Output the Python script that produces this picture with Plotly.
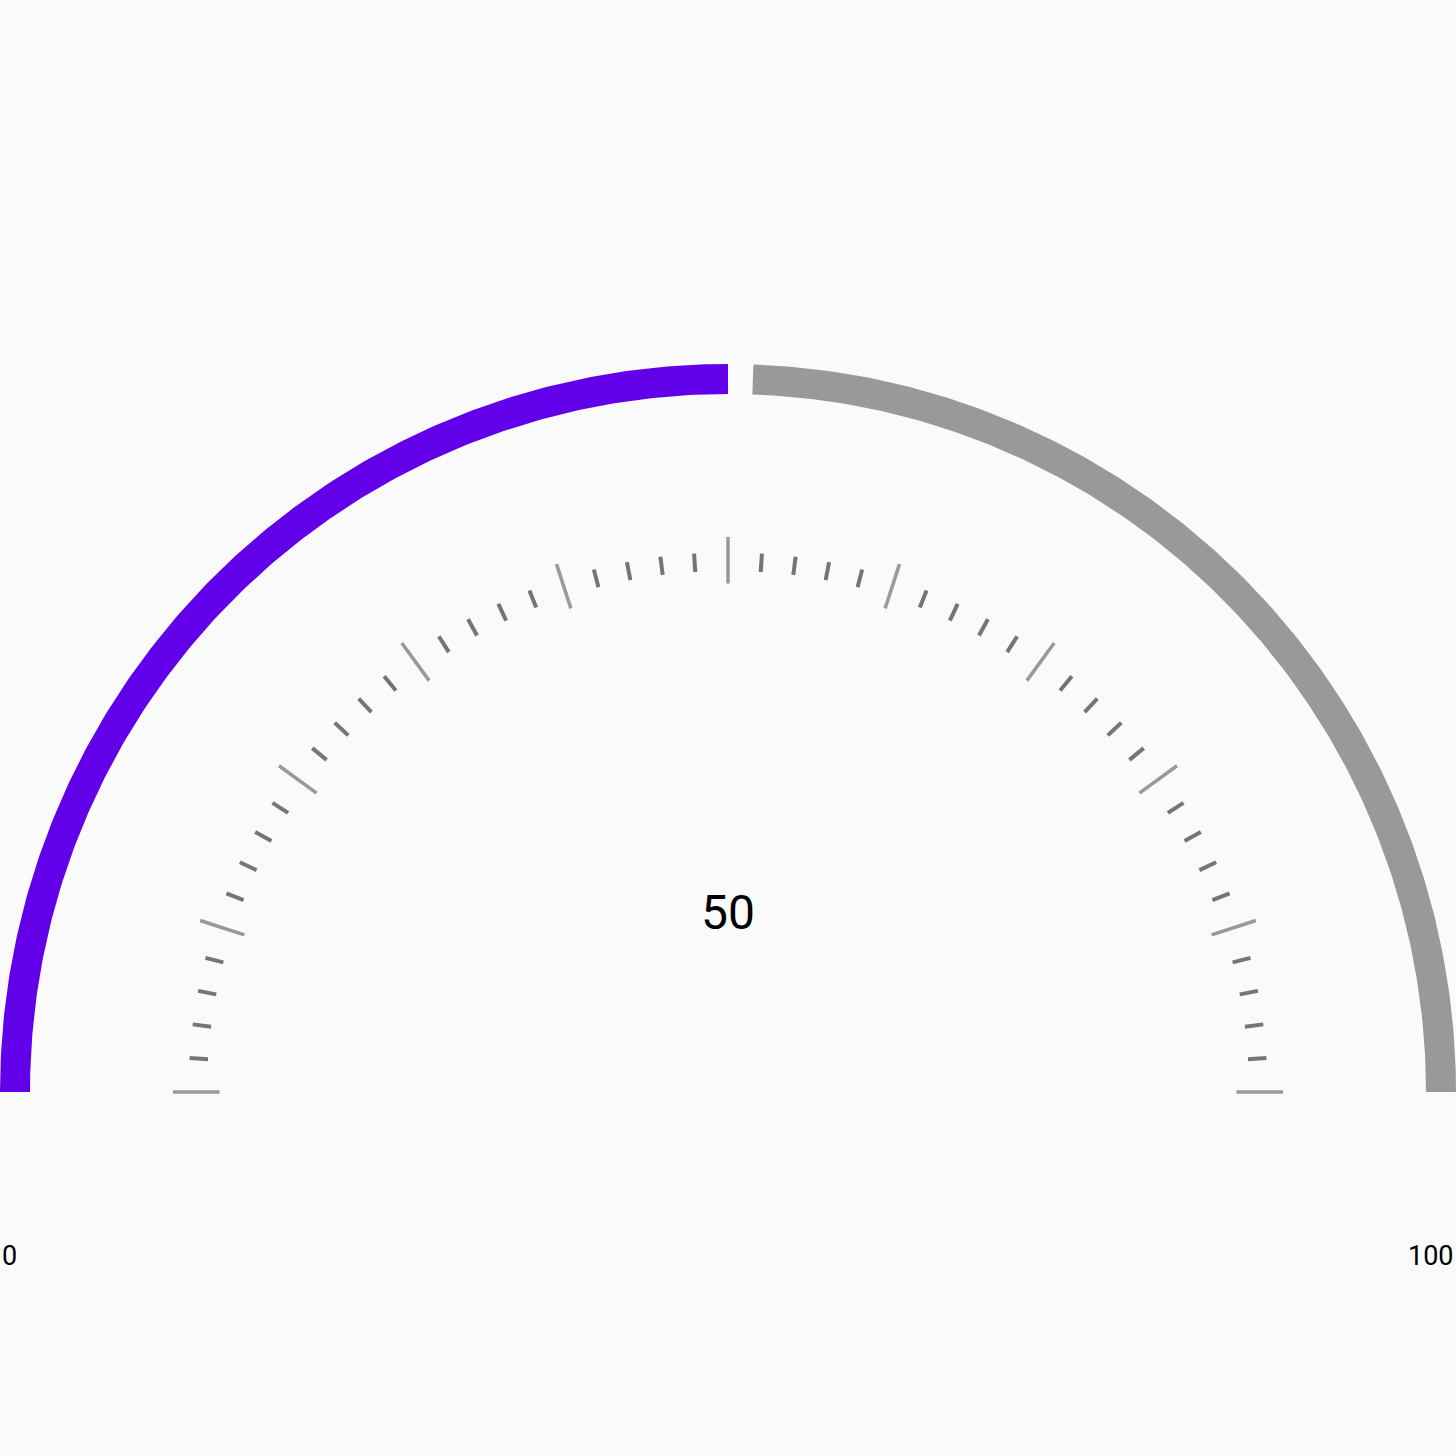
import numpy as np
import plotly.graph_objects as go

# ---- data ----
gauge_min = 0
gauge_max = 100
gauge_value = 50
major_ticks = [0, 10, 20, 30, 40, 50, 60, 70, 80, 90, 100]
minor_ticks = [v for v in range(0, 101, 2) if v % 10 != 0]
end_labels = ["0", "100"]

# ---- styling / layout ----
W = H = 1456
R_OUT, R_IN = 728, 698
GAP_DEG = 2.0
BG = "#FAFAFA"
FILL_COLOR = "#6200EA"
TRACK_COLOR = "#999999"
MAJOR_COLOR = "#999999"
MINOR_COLOR = "#757575"


def ang(v):
    return np.pi * (1 - (v - gauge_min) / (gauge_max - gauge_min))


def band(a0, a1, n=200):
    t = np.linspace(a0, a1, n)
    xs = np.concatenate([R_OUT * np.cos(t), R_IN * np.cos(t[::-1])])
    ys = np.concatenate([R_OUT * np.sin(t), R_IN * np.sin(t[::-1])])
    return np.append(xs, xs[0]), np.append(ys, ys[0])


fig = go.Figure()

# filled part
x, y = band(ang(gauge_min), ang(gauge_value))
fig.add_trace(go.Scatter(x=x, y=y, fill="toself", fillcolor=FILL_COLOR,
                         line=dict(width=0), mode="lines", hoverinfo="skip"))
# track part
x, y = band(ang(gauge_value) - np.radians(GAP_DEG), ang(gauge_max))
fig.add_trace(go.Scatter(x=x, y=y, fill="toself", fillcolor=TRACK_COLOR,
                         line=dict(width=0), mode="lines", hoverinfo="skip"))


def tick_xy(vals, r0, r1):
    xs, ys = [], []
    for v in vals:
        a = ang(v)
        xs += [r0 * np.cos(a), r1 * np.cos(a), None]
        ys += [r0 * np.sin(a), r1 * np.sin(a), None]
    return xs, ys


x, y = tick_xy(minor_ticks, 521, 539.5)
fig.add_trace(go.Scatter(x=x, y=y, mode="lines",
                         line=dict(color=MINOR_COLOR, width=4), hoverinfo="skip"))
x, y = tick_xy(major_ticks, 508.5, 555)
fig.add_trace(go.Scatter(x=x, y=y, mode="lines",
                         line=dict(color=MAJOR_COLOR, width=3.5), hoverinfo="skip"))

fig.add_annotation(x=0, y=179.5, text=str(gauge_value), showarrow=False,
                   font=dict(family="Roboto", size=48, color="#000000"),
                   xanchor="center", yanchor="middle")
fig.add_annotation(x=-728, y=-164, text=end_labels[0], showarrow=False,
                   font=dict(family="Roboto", size=27, color="#000000"),
                   xanchor="left", yanchor="middle")
fig.add_annotation(x=728, y=-164, text=end_labels[1], showarrow=False,
                   font=dict(family="Roboto", size=27, color="#000000"),
                   xanchor="right", yanchor="middle")

fig.update_layout(
    width=W, height=H,
    margin=dict(l=0, r=0, t=0, b=0),
    paper_bgcolor=BG, plot_bgcolor=BG,
    showlegend=False, hovermode=False,
    xaxis=dict(range=[-728, 728], visible=False, fixedrange=True),
    yaxis=dict(range=[-364, 1092], visible=False, fixedrange=True),
)

fig.write_html("out.html", config={"displayModeBar": False})
